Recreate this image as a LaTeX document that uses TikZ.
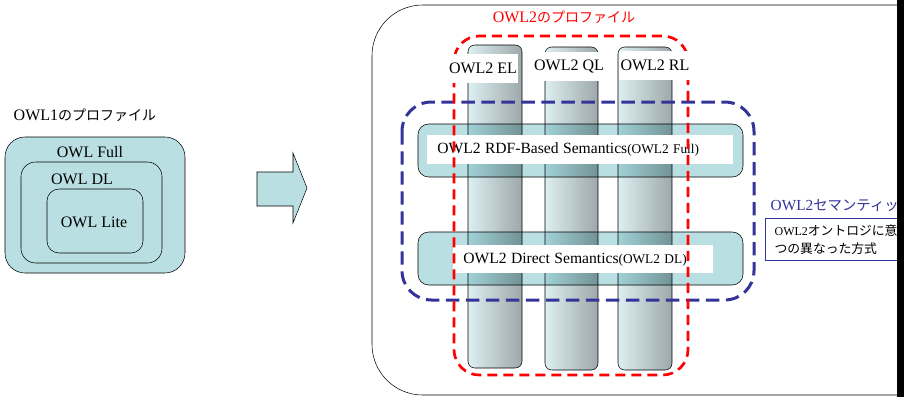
\documentclass[tikz,border=0pt]{standalone}
\usepackage{fontspec}
\setmainfont{Liberation Serif}
\newfontfamily\jpfont{Noto Sans CJK JP}
\usepackage{tikz}
\usetikzlibrary{positioning}
\definecolor{owlcyan}{HTML}{BADFE2}
\definecolor{pillarlight}{HTML}{DDEFF2}
\definecolor{pillardark}{HTML}{9DA8A9}
\definecolor{semblue}{HTML}{333399}

\begin{document}
\begin{tikzpicture}[x=0.75pt,y=-0.75pt,
	owlbox/.style={draw, fill=owlcyan, rounded corners=#1},
	pillar/.style={draw, left color=pillarlight, right color=pillardark, rounded corners=5pt},
	semband/.style={draw, fill=owlcyan, rounded corners=8pt, blend mode=multiply},
	semlabel/.style={fill=white, anchor=north west, inner xsep=7.5pt, inner ysep=0pt, align=left},
	pillarlabel/.style={fill=white, inner xsep=1pt, minimum height=21.75pt},
	txt/.style={font=\fontsize{12}{14}\selectfont}]
			\useasboundingbox (0,0) rectangle (904,397);
			\clip (0,0) rectangle (904,397);
			\node[txt, anchor=west] (owlone) at (9,115) {OWL1{\fontsize{10.5}{12}\jpfont のプロファイル}};
			\draw[owlbox=15pt] (5,137) rectangle (185,273);
			\draw[owlbox=11pt] (21,162) rectangle (162,263);
			\draw[owlbox=9pt] (47,189) rectangle (143,253);
			\node[txt] (full) at (90,152) {OWL Full};
			\node[txt] (dl) at (82,179) {OWL DL};
			\node[txt] (lite) at (94,222) {OWL Lite};
			\draw[fill=owlcyan] (257,172) -- (293,172) -- (293,153) -- (307,188) -- (293,223) -- (293,206) -- (257,206) -- cycle;
			\draw[rounded corners=38pt] (372,5) rectangle (990,395);
			\node[txt, red] (owltwo) at (564,17) {OWL2{\fontsize{10.5}{12}\jpfont のプロファイル}};
			\foreach \xa/\xb/\yt/\yb in {468/522/45/368, 545/598/47/370, 618/672/47/370}
				\draw[pillar] (\xa,\yt) rectangle (\xb,\yb);
			\draw[semband] (418,124) rectangle (743,177);
			\draw[semband] (418,232) rectangle (743,285);
			\node[semlabel, text width=214.5pt, minimum height=21.75pt] (rdf) at (427,135)
				{\fontsize{11.7}{14}\selectfont OWL2 RDF-Based Semantics{\fontsize{10}{12}\selectfont(OWL2 Full)}};
			\node[semlabel, text width=180pt, minimum height=21pt] (direct) at (453,245)
				{\fontsize{11.7}{14}\selectfont OWL2 Direct Semantics{\fontsize{10}{12}\selectfont(OWL2 DL)}};
			\draw[semblue, line width=2.25pt, dash pattern=on 10pt off 5pt, rounded corners=22pt] (402,102) rectangle (754,300);
			\draw[red, line width=2pt, dash pattern=on 7.5pt off 4.5pt, rounded corners=19pt] (454,36) rectangle (688,375);
			\node[txt, pillarlabel] (el) at (483,68) {OWL2 EL};
			\node[txt, pillarlabel] (ql) at (569,66) {OWL2 QL};
			\node[txt, pillarlabel] (rl) at (655,65) {OWL2 RL};
			\node[anchor=west, semblue, font=\fontsize{11.5}{13}\selectfont] (semtitle) at (766,205) {OWL2{\fontsize{10.8}{12}\jpfont セマンティック}};
			\node[draw=semblue, anchor=north west, align=left, text width=150pt, inner xsep=7pt, inner ysep=2pt, minimum height=31.5pt, font=\fontsize{9}{13.5}\selectfont] (semnote) at (765,218)
				{OWL2{\fontsize{9.6}{13.5}\jpfont オントロジに意味}\\{\fontsize{9.6}{13.5}\jpfont つの異なった方式}};
			\fill (897,0) rectangle (904,397);
		\end{tikzpicture}
\end{document}
